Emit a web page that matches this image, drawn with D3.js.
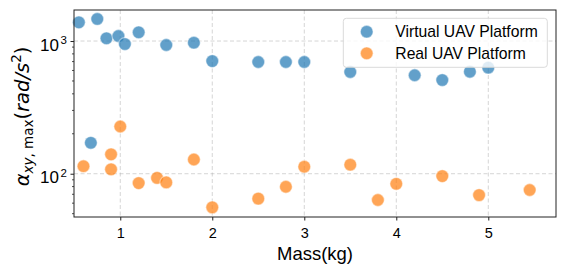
<!DOCTYPE html>
<html>
<head>
<meta charset="utf-8">
<script src="https://cdn.jsdelivr.net/npm/d3@7"></script>
<style>
  body { margin: 0; background: #fff; }
  svg text { font-family: "Liberation Sans", Arial, Helvetica, sans-serif; fill: #000; }
</style>
</head>
<body>
<div id="chart"></div>
<script>
// data
const virtualMass = [0.55, 0.75, 0.85, 0.98, 1.05, 1.2, 1.5, 1.8, 0.68, 2.0, 2.5, 2.8, 3.0, 3.5, 4.2, 4.5, 4.8, 5.0];
const virtualAcc  = [1383, 1466, 1048, 1091, 949, 1163, 933, 971, 171, 706, 695, 695, 695, 584, 552, 508, 587, 630];
const realMass = [0.6, 0.9, 0.9, 1.0, 1.2, 1.4, 1.5, 1.8, 2.0, 2.5, 2.8, 3.0, 3.5, 3.8, 4.0, 4.5, 4.9, 5.45];
const realAcc  = [114, 140, 108, 227, 85, 93, 86, 128, 55.8, 64.9, 79.8, 113, 117, 63.4, 84, 96, 69, 75.4];
const xTicks = [1, 2, 3, 4, 5];
const yTicks = [100, 1000];
const seriesNames = ["Virtual UAV Platform", "Real UAV Platform"];
const seriesColors = ["#1f77b4", "#ff7f0e"];

const W = 565, H = 274;
const margin = { top: 10, right: 9, bottom: 57, left: 74 };
const width = W - margin.left - margin.right;
const height = H - margin.top - margin.bottom;

const svg = d3.select("#chart").append("svg")
    .attr("width", W)
    .attr("height", H);

const g = svg.append("g")
    .attr("transform", `translate(${margin.left},${margin.top})`);

const x = d3.scaleLinear().domain([0.497, 5.736]).range([0, width]);
const y = d3.scaleLog().domain([47.2, 1713]).range([height, 0]);

// grid
g.append("g").selectAll("line").data(xTicks).join("line")
    .attr("x1", d => x(d)).attr("x2", d => x(d))
    .attr("y1", 0).attr("y2", height)
    .attr("stroke", "#b0b0b0").attr("stroke-opacity", 0.6)
    .attr("stroke-dasharray", "4,2.5").attr("stroke-width", 0.9);
g.append("g").selectAll("line").data(yTicks).join("line")
    .attr("x1", 0).attr("x2", width)
    .attr("y1", d => y(d)).attr("y2", d => y(d))
    .attr("stroke", "#b0b0b0").attr("stroke-opacity", 0.6)
    .attr("stroke-dasharray", "4,2.5").attr("stroke-width", 0.9);

// x axis
const xAxis = g.append("g")
    .attr("transform", `translate(0,${height})`)
    .call(d3.axisBottom(x).tickValues(xTicks).tickFormat(d3.format("d")).tickSize(3.5).tickPadding(7));
xAxis.select(".domain").remove();
xAxis.selectAll("text").style("font-size", "14.5px").attr("fill", "#000");
xAxis.selectAll("line").attr("stroke", "#222");

// y axis minor ticks
const minor = [];
[10, 100, 1000].forEach(p => { for (let k = 2; k <= 9; k++) minor.push(p * k); });
const yMinor = minor.filter(v => v >= y.domain()[0] && v <= y.domain()[1]);
g.append("g").selectAll("line").data(yMinor).join("line")
    .attr("x1", -2).attr("x2", 0)
    .attr("y1", d => y(d)).attr("y2", d => y(d))
    .attr("stroke", "#222").attr("stroke-width", 0.8);

// y axis major ticks
const yAxis = g.append("g")
    .call(d3.axisLeft(y).tickValues(yTicks).tickFormat("").tickSize(3.5));
yAxis.select(".domain").remove();
yAxis.selectAll("line").attr("stroke", "#222");
yAxis.selectAll(".tick").append("text")
    .attr("x", -15).attr("y", 9)
    .attr("text-anchor", "end")
    .style("font-size", "17px")
    .text("10");
yAxis.selectAll(".tick").append("text")
    .attr("x", -13.5).attr("y", 2.5)
    .attr("text-anchor", "start")
    .style("font-size", "11.5px")
    .text(d => Math.round(Math.log10(d)));

// points
function drawSeries(mass, acc, color) {
    g.append("g").selectAll("circle").data(mass.map((m, i) => [m, acc[i]])).join("circle")
        .attr("cx", d => x(d[0]))
        .attr("cy", d => y(d[1]))
        .attr("r", 6.4)
        .attr("fill", color)
        .attr("fill-opacity", 0.7)
        .attr("stroke", "#fff")
        .attr("stroke-opacity", 0.45)
        .attr("stroke-width", 1.2);
}
drawSeries(virtualMass, virtualAcc, seriesColors[0]);
drawSeries(realMass, realAcc, seriesColors[1]);

// frame
g.append("rect")
    .attr("width", width).attr("height", height)
    .attr("fill", "none").attr("stroke", "#222").attr("stroke-width", 1);

// legend
const legend = g.append("g").attr("transform", `translate(${343.3 - margin.left},${18.3 - margin.top})`);
legend.append("rect")
    .attr("width", 204).attr("height", 49).attr("rx", 3)
    .attr("fill", "#fff").attr("fill-opacity", 0.8)
    .attr("stroke", "#d6d6d6").attr("stroke-width", 0.9);
seriesNames.forEach((name, i) => {
    const row = legend.append("g").attr("transform", `translate(0,${13.4 + i * 21.6})`);
    row.append("circle")
        .attr("cx", 23.4).attr("cy", 0).attr("r", 6.4)
        .attr("fill", seriesColors[i]).attr("fill-opacity", 0.7)
        .attr("stroke", "#fff").attr("stroke-opacity", 0.45).attr("stroke-width", 1.2);
    row.append("text")
        .attr("x", 52).attr("dy", "0.36em")
        .style("font-size", "15.7px")
        .text(name);
});

// axis labels
svg.append("text")
    .attr("x", margin.left + width / 2).attr("y", 259.5)
    .attr("text-anchor", "middle")
    .style("font-size", "18.5px")
    .text("Mass(kg)");

const yl = svg.append("text")
    .attr("transform", `translate(28.5,116.5) rotate(-90)`)
    .attr("text-anchor", "middle")
    .style("font-family", "'DejaVu Sans', sans-serif")
    .style("font-size", "19.5px");
yl.append("tspan").style("font-style", "italic").text("α");
yl.append("tspan").attr("dy", 4).style("font-size", "13.5px").style("font-style", "italic").text("xy");
yl.append("tspan").style("font-size", "13.5px").text(", max");
yl.append("tspan").attr("dy", -4).text("(");
yl.append("tspan").style("font-style", "italic").text("rad/s");
yl.append("tspan").attr("dy", -8).style("font-size", "13.5px").text("2");
yl.append("tspan").attr("dy", 8).text(")");
</script>
</body>
</html>
